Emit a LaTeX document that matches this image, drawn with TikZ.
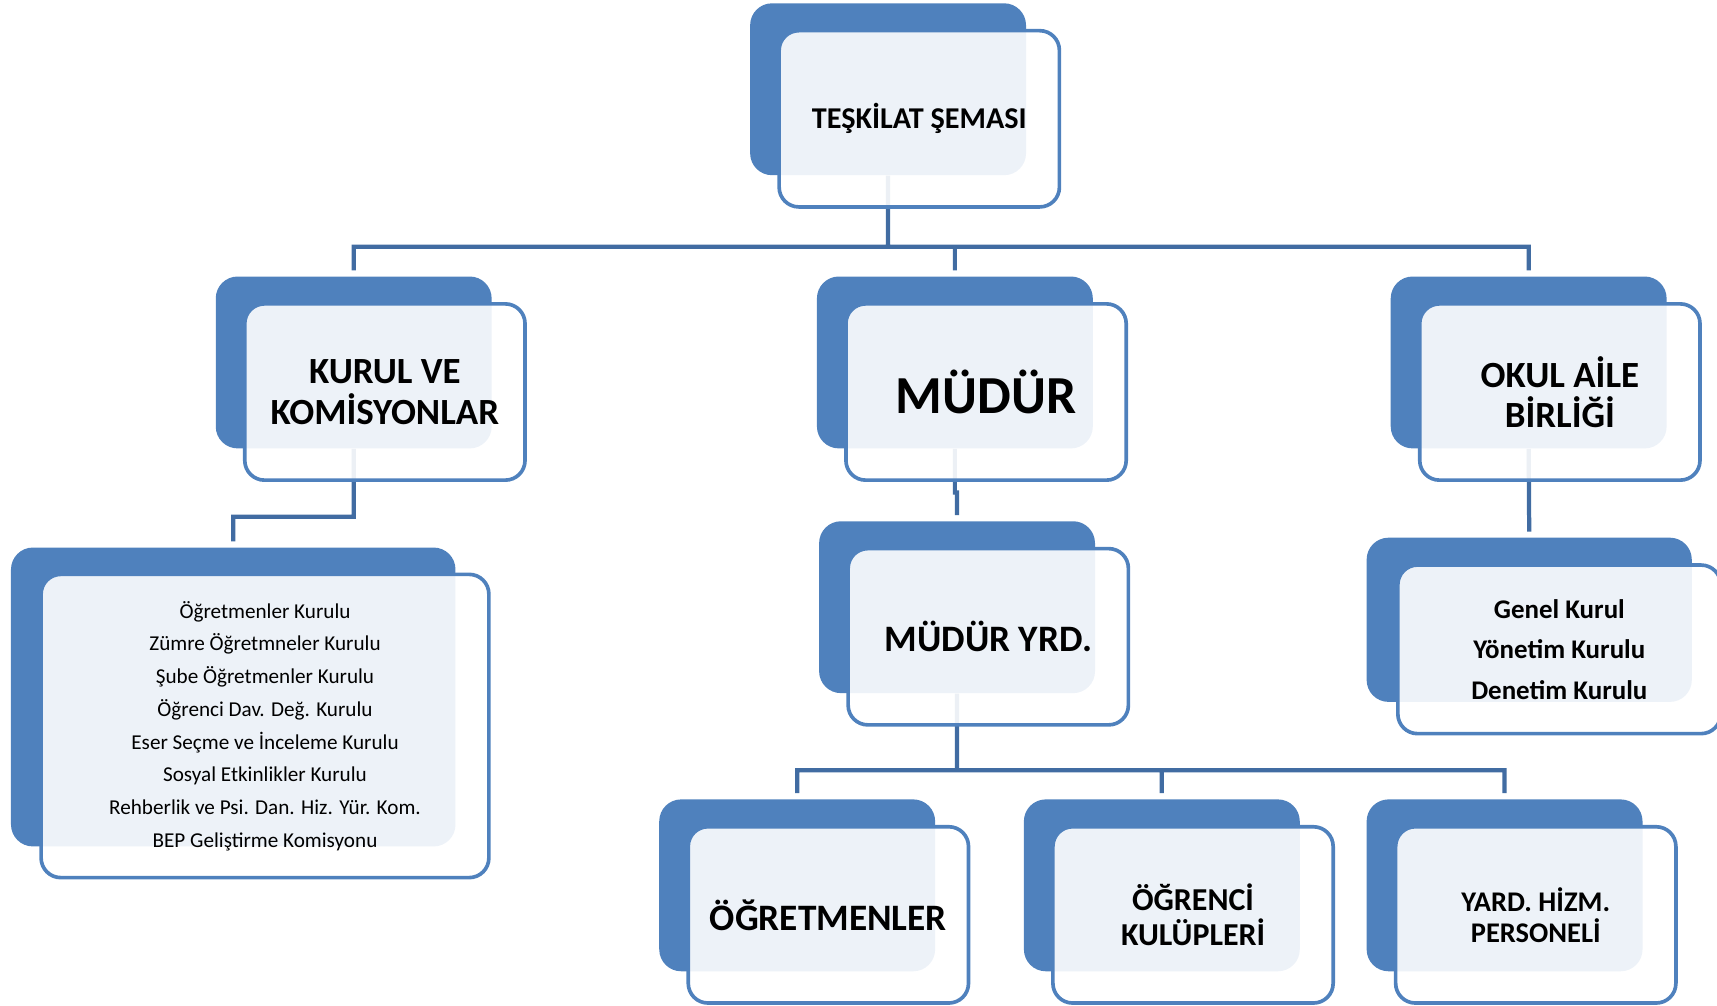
\documentclass[tikz,border=0pt]{standalone}
\usepackage{fontspec}
\setmainfont{Carlito}
\usetikzlibrary{positioning}

\definecolor{boxblue}{RGB}{79,129,189}
\definecolor{lineblue}{RGB}{65,108,162}

\tikzset{
	back/.style={rectangle, rounded corners=0.4cm, fill=boxblue, inner sep=0pt,
		minimum width=5.04cm, minimum height=3.14cm},
	front/.style={rectangle, rounded corners=0.36cm, draw=boxblue, line width=1.9pt,
		fill=white, fill opacity=0.9, text opacity=1, inner sep=0pt, align=center,
		minimum width=5.12cm, minimum height=3.22cm, font=\bfseries},
	conn/.style={draw=lineblue, line width=2.2pt},
}

\begin{document}
\begin{tikzpicture}[x=0.02cm, y=-0.02cm]
			\useasboundingbox (0,0) rectangle (1568,918.7);

			% back boxes
			\node[back] (tb) at (811,81.5) {};
			\node[back] (kb) at (323,331) {};
			\node[back] (mb) at (872,331) {};
			\node[back] (ob) at (1396,331) {};
			\node[back, minimum width=8.12cm, minimum height=5.46cm] (lb) at (213,636.5) {};
			\node[back] (yb) at (874,554.5) {};
			\node[back, minimum width=5.94cm, minimum height=3cm] (gb) at (1396.5,566) {};
			\node[back] (ab) at (728,808.5) {};
			\node[back] (cb) at (1061,808.5) {};
			\node[back] (pb) at (1374,808.5) {};

			% connectors
			\path[conn, shorten <=3pt]
			(tb.south) -- ++(0,65) -| ([yshift=3pt]kb.north)
			(tb.south) -- ++(0,65) -| ([yshift=3pt]mb.north)
			(tb.south) -- ++(0,65) -| ([yshift=3pt]ob.north)
			(kb.south) -- ++(0,62) -| ([yshift=3pt]lb.north)
			(mb.south) -- ++(0,40) -| ([yshift=3pt]yb.north)
			(ob.south) -- ([yshift=3pt]gb.north)
			(yb.south) -- ++(0,70) -| ([yshift=3pt]ab.north)
			(yb.south) -- ++(0,70) -| ([yshift=3pt]cb.north)
			(yb.south) -- ++(0,70) -| ([yshift=3pt]pb.north);

			% front boxes
			\node[front, font=\bfseries\fontsize{15.7}{19}\selectfont] (top) [xshift=0.57cm, yshift=-0.54cm] at (tb) {TEŞKİLAT ŞEMASI};
			\node[front, font=\bfseries\fontsize{19.2}{21}\selectfont] (kurul) [xshift=0.57cm, yshift=-0.54cm] at (kb) {KURUL VE\\KOMİSYONLAR};
			\node[front, font=\bfseries\fontsize{27.8}{30}\selectfont] (mudur) [xshift=0.57cm, yshift=-0.54cm] at (mb) {MÜDÜR};
			\node[front, font=\bfseries\fontsize{19.2}{21}\selectfont] (veli) [xshift=0.57cm, yshift=-0.54cm] at (ob) {OKUL AİLE\\BİRLİĞİ};
			\node[front, font=\fontsize{11}{17}\selectfont, minimum width=8.18cm, minimum height=5.54cm] (kurullar) [xshift=0.58cm, yshift=-0.53cm] at (lb)
			{Öğretmenler Kurulu\\Zümre Öğretmneler Kurulu\\Şube Öğretmenler Kurulu\\Öğrenci Dav. Değ. Kurulu\\Eser Seçme ve İnceleme Kurulu\\Sosyal Etkinlikler Kurulu\\Rehberlik ve Psi. Dan. Hiz. Yür. Kom.\\BEP Geliştirme Komisyonu};
			\node[front, font=\bfseries\fontsize{19.4}{22}\selectfont] (yrd) [xshift=0.57cm, yshift=-0.54cm] at (yb) {MÜDÜR YRD.};
			\node[front, font=\bfseries\fontsize{14}{21}\selectfont, minimum width=5.9cm, minimum height=3.08cm] (genel) [xshift=0.55cm, yshift=-0.54cm] at (gb) {Genel Kurul\\Yönetim Kurulu\\Denetim Kurulu};
			\node[front, font=\bfseries\fontsize{19.4}{22}\selectfont] (ogretmen) [xshift=0.57cm, yshift=-0.54cm] at (ab) {ÖĞRETMENLER};
			\node[front, font=\bfseries\fontsize{16.6}{18.2}\selectfont] (kulup) [xshift=0.57cm, yshift=-0.54cm] at (cb) {ÖĞRENCİ\\KULÜPLERİ};
			\node[front, font=\bfseries\fontsize{14.8}{16}\selectfont] (personel) [xshift=0.57cm, yshift=-0.54cm] at (pb) {YARD. HİZM.\\PERSONELİ};
		\end{tikzpicture}
\end{document}
